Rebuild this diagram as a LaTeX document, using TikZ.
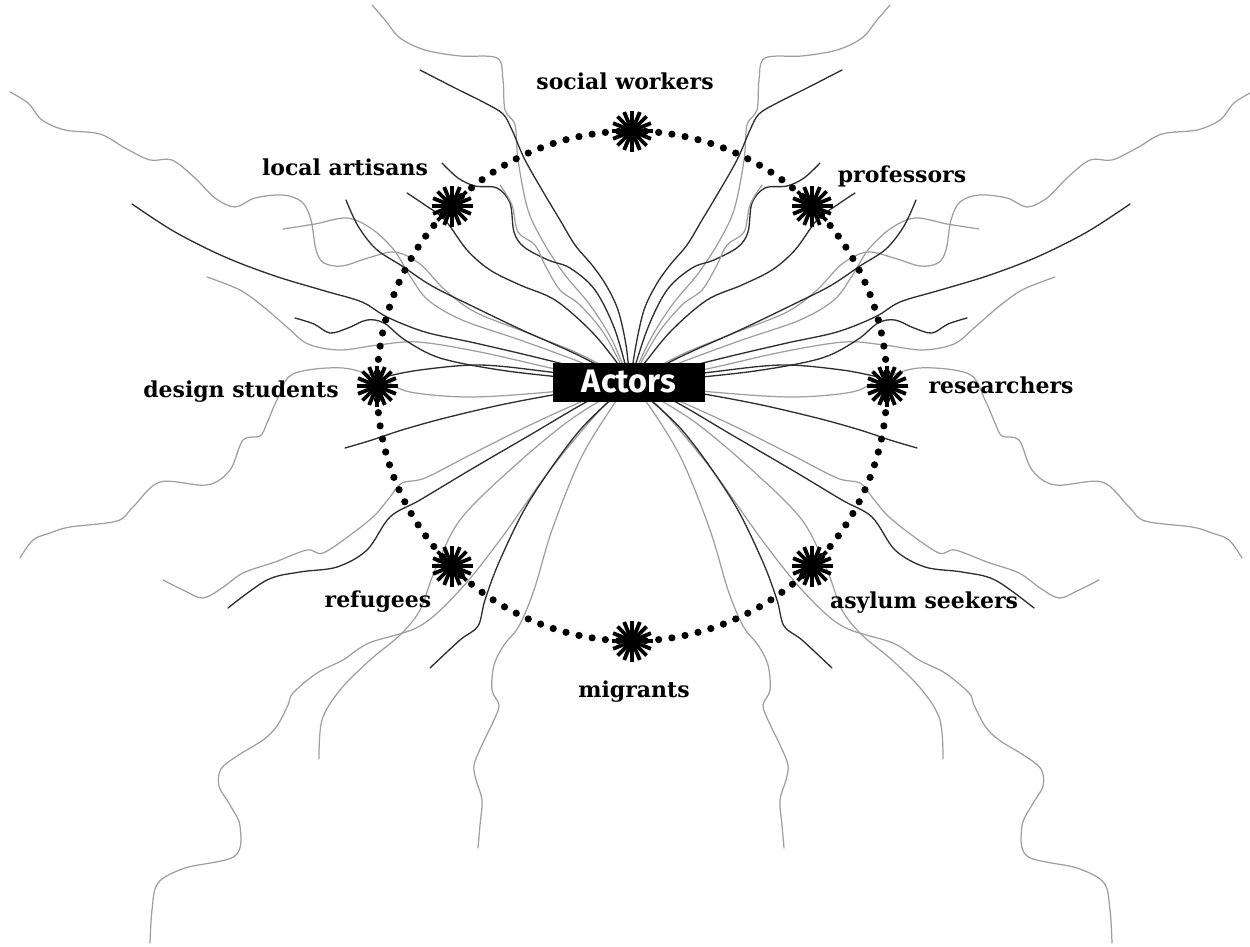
\documentclass[tikz,border=0pt]{standalone}
\usepackage{fontspec}
\setmainfont{DejaVu Serif}
\newfontfamily\actfont{Fira Sans}
\newcommand\mycurves{%
 % upward fan
 \draw[gry] plot[smooth,tension=0.55] coordinates {(372,5) (385,20) (400,38) (425,50) (460,56) (497,58) (503,80) (505,110) (515,125) (518,160) (528,210) (545,245) (565,275) (590,305) (612,340) (C)};
 \draw[blk] plot[smooth,tension=0.55] coordinates {(420,70) (455,88) (485,103) (503,114) (512,130) (525,160) (545,195) (560,220) (575,245) (592,265) (606,285) (618,310) (626,345) (C)};
 \draw[blk] plot[smooth,tension=0.55] coordinates {(442,163) (458,178) (475,186) (497,188) (510,203) (514,232) (524,247) (548,260) (570,268) (595,290) (615,330) (C)};
 \draw[blk] plot[smooth,tension=0.55] coordinates {(407,193) (425,205) (445,220) (467,250) (490,270) (520,285) (555,300) (590,330) (615,360) (C)};
 \draw[gry] plot[smooth,tension=0.55] coordinates {(500,185) (512,205) (518,232) (535,245) (545,265) (560,290) (580,305) (605,335) (C)};
 % left-upper
 \draw[gry] plot[smooth,tension=0.55] coordinates {(10,92) (28,103) (42,120) (65,130) (100,134) (125,148) (150,160) (172,160) (195,178) (215,198) (235,207) (255,198) (283,195) (302,202) (311,220) (316,250) (324,263) (342,266) (368,258) (395,252) (420,264) (445,290) (475,312) (525,332) (575,352) (610,370) (C)};
 \draw[blk] plot[smooth,tension=0.55] coordinates {(132,204) (175,232) (225,257) (275,276) (325,291) (362,302) (387,317) (425,332) (475,343) (535,357) (590,371) (C)};
 \draw[gry] plot[smooth,tension=0.55] coordinates {(283,229) (315,224) (347,218) (372,229) (394,250) (410,276) (428,300) (462,320) (520,340) (580,362) (C)};
 \draw[blk] plot[smooth,tension=0.55] coordinates {(346,200) (358,226) (376,249) (402,266) (432,286) (472,306) (522,330) (580,356) (C)};
 \draw[gry] plot[smooth,tension=0.55] coordinates {(207,277) (240,290) (265,308) (288,328) (308,344) (340,350) (378,345) (418,342) (480,352) (560,370) (C)};
 \draw[blk] plot[smooth,tension=0.55] coordinates {(295,318) (314,324) (330,333) (348,328) (367,320) (384,323) (405,340) (440,358) (500,370) (570,378) (C)};
 % left-middle
 \draw[blk] plot[smooth,tension=0.55] coordinates {(384,377) (420,370) (480,365) (550,372) (C)};
 \draw[gry] plot[smooth,tension=0.55] coordinates {(20,558) (33,540) (50,533) (70,527) (117,521) (133,507) (160,482) (207,485) (230,470) (243,440) (260,436) (267,423) (277,400) (293,374) (343,368) (383,380) (410,392) (470,397) (550,392) (C)};
 \draw[blk] plot[smooth,tension=0.55] coordinates {(345,448) (372,440) (402,430) (445,418) (505,404) (570,392) (C)};
 \draw[gry] plot[smooth,tension=0.55] coordinates {(163,580) (185,591) (203,598) (222,588) (243,573) (275,562) (307,550) (323,553) (353,533) (375,515) (390,497) (402,483) (425,478) (470,455) (530,425) (590,398) (C)};
 \draw[blk] plot[smooth,tension=0.55] coordinates {(228,608) (267,580) (300,572) (337,567) (367,550) (390,517) (420,500) (470,470) (530,435) (590,400) (C)};
 % downward fan
 \draw[gry] plot[smooth,tension=0.55] coordinates {(150,943) (152,910) (158,883) (185,868) (235,856) (240,826) (230,805) (219,786) (221,769) (237,756) (263,740) (277,726) (288,705) (293,693) (317,673) (343,660) (369,643) (420,626) (460,590) (500,540) (550,470) (600,410) (C)};
 \draw[gry] plot[smooth,tension=0.55] coordinates {(319,759) (322,720) (340,690) (370,660) (400,635) (420,610) (435,570) (460,520) (510,470) (570,420) (C)};
 \draw[blk] plot[smooth,tension=0.55] coordinates {(430,668) (460,640) (478,626) (485,600) (500,560) (530,500) (580,430) (C)};
 \draw[gry] plot[smooth,tension=0.55] coordinates {(478,848) (480,825) (482,800) (476,780) (474,765) (482,745) (494,720) (499,705) (492,690) (494,665) (504,645) (519,626) (534,590) (552,530) (580,460) (610,410) (C)};
}
\begin{document}
\begin{tikzpicture}[x=0.02cm,y=-0.02cm,
  blk/.style={draw=black!82,line width=0.75pt,line cap=round},
  gry/.style={draw=black!38,line width=0.7pt,line cap=round},
  lbl/.style={font=\bfseries\fontsize{12.5}{15}\selectfont,inner sep=0pt,anchor=base},
  ray/.style={line width=2.2pt,black}]
\useasboundingbox (0,0) rectangle (1250,946);
\coordinate (C) at (630,383);
\coordinate (O) at (632,386);
\mycurves
\begin{scope}[shift={(1262,0)},xscale=-1]
\mycurves
\end{scope}
% dotted circle
\foreach \i in {0,...,119} \fill (O) ++(\i*3:255) circle (3.6);
% stars
\foreach \n/\x/\y in {sw/632/131,pr/812/206,re/887/386,as/812/566,mi/632/641,rf/452/566,ds/377/386,la/452/206}{
  \coordinate (\n) at (\x,\y);
  \fill (\n) circle (8.5);
  \foreach \k in {0,...,15} \draw[ray] (\n) -- ++(\k*22.5:20.5);
}
% labels
\node[lbl] (lsw) at (625,90) {social workers};
\node[lbl] (lla) at (345,175) {local artisans};
\node[lbl] (lpr) at (902,182) {professors};
\node[lbl] (lds) at (241,397) {design students};
\node[lbl] (lre) at (1001,393) {researchers};
\node[lbl] (las) at (924,608) {asylum seekers};
\node[lbl] (lrf) at (378,607) {refugees};
\node[lbl] (lmi) at (634,697) {migrants};
% centre
\node[fill=black,text=white,minimum width=3.04cm,minimum height=0.78cm,inner sep=0pt,
  font=\actfont\bfseries\fontsize{18.5}{20}\selectfont] (A) at (629,382) {Actors};
\end{tikzpicture}
\end{document}
